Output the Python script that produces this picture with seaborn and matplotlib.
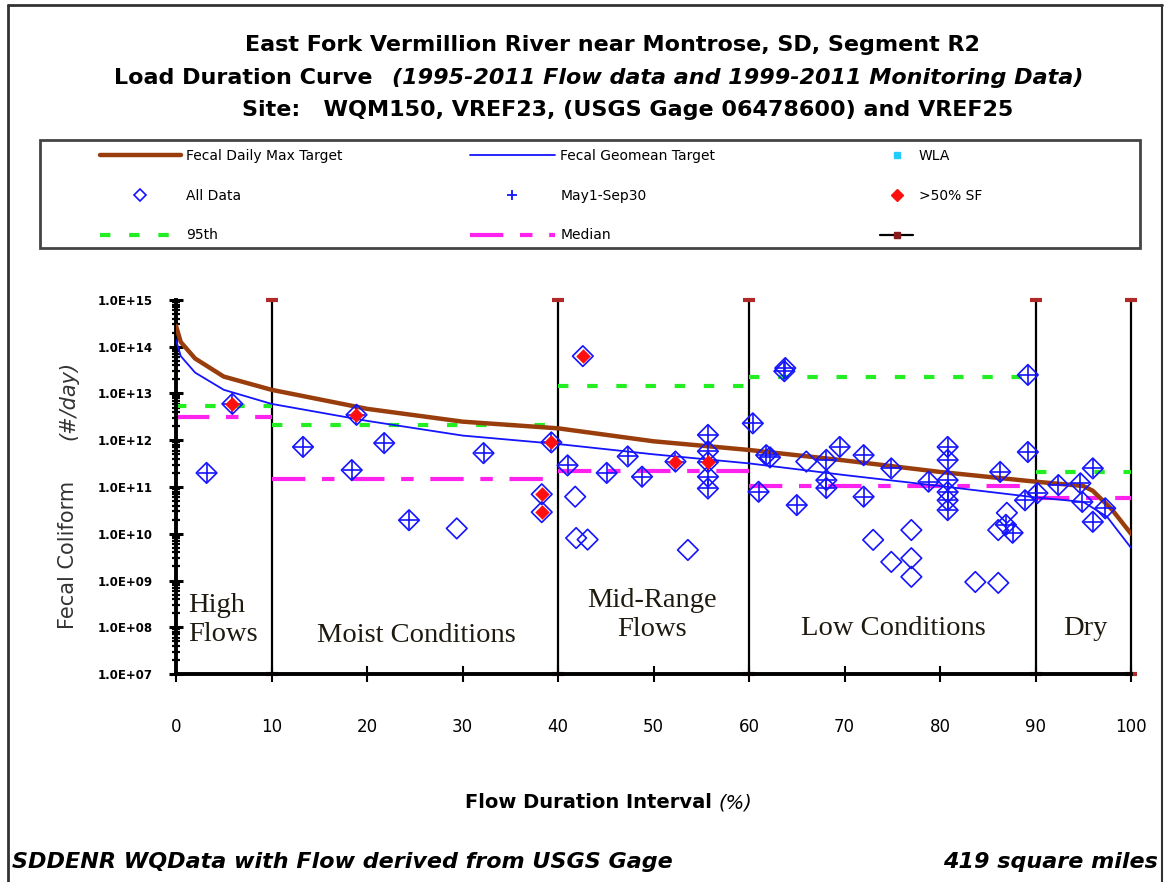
import pandas as pd
import matplotlib.pyplot as plt
import seaborn as sns
from matplotlib.lines import Line2D
from matplotlib.patches import Rectangle
from matplotlib.ticker import LogLocator, FuncFormatter, NullFormatter
import numpy as np

# sample data: flow duration interval (%) and fecal coliform load (#/day)
flow_pct = [3.2, 5.9, 13.3, 18.4, 18.9, 21.8, 24.4, 29.4, 32.2, 38.3, 38.3, 39.3,
            41.0, 41.8, 41.9, 43.1, 42.6, 45.1, 47.3, 48.8, 53.6, 52.3,
            55.7, 55.7, 55.7, 55.7, 55.7, 60.4, 61.0, 61.8, 62.2, 63.8, 63.7,
            65.0, 66.0, 68.1, 68.1, 68.1, 69.5, 72.0, 72.0, 73.0, 74.9, 74.9,
            77.0, 77.0, 77.0, 78.8, 80.8, 80.8, 80.8, 80.8, 80.8, 80.8,
            83.7, 86.1, 86.3, 87.0, 86.1, 86.9, 87.6, 89.2, 89.2, 88.9,
            90.2, 92.4, 94.7, 94.9, 96.0, 96.0, 97.3]
load = [2.0e11, 6.0e12, 7.2e11, 2.3e11, 3.5e12, 8.7e11, 1.95e10, 1.3e10, 5.3e11, 7.0e10, 2.9e10, 9.0e11,
        2.9e11, 6.2e10, 8.1e9, 7.5e9, 6.3e13, 2.0e11, 4.5e11, 1.66e11, 4.5e9, 3.5e11,
        1.3e12, 5.8e11, 3.4e11, 1.66e11, 9.3e10, 2.3e12, 7.9e10, 4.8e11, 4.3e11, 3.5e13, 3.0e13,
        4.1e10, 3.5e11, 3.8e11, 1.4e11, 9.5e10, 7.2e11, 4.8e11, 6.2e10, 7.4e9, 2.5e11, 2.5e9,
        1.2e10, 3.0e9, 1.2e9, 1.3e11, 7.2e11, 3.8e11, 1.4e11, 7.8e10, 5.2e10, 3.2e10,
        9.3e8, 8.9e8, 2.1e11, 2.8e10, 1.2e10, 1.55e10, 1.05e10, 2.5e13, 5.6e11, 5.2e10,
        7.4e10, 1.1e11, 1.2e11, 4.8e10, 2.5e11, 1.8e10, 3.5e10]
may_sep = [1, 1, 1, 1, 1, 1, 1, 0, 1, 0, 0, 1,
           1, 0, 0, 0, 0, 1, 1, 1, 0, 1,
           1, 1, 1, 1, 1, 1, 1, 1, 1, 1, 1,
           1, 0, 1, 1, 1, 1, 1, 1, 0, 1, 0,
           0, 0, 0, 1, 1, 1, 1, 1, 1, 1,
           0, 0, 1, 0, 0, 1, 1, 1, 1, 1,
           1, 1, 1, 1, 1, 1, 1]
high_sf = [0, 1, 0, 0, 1, 0, 0, 0, 0, 1, 1, 1,
           0, 0, 0, 0, 1, 0, 0, 0, 0, 1,
           0, 0, 1, 0, 0, 0, 0, 0, 0, 0, 0,
           0, 0, 0, 0, 0, 0, 0, 0, 0, 0, 0,
           0, 0, 0, 0, 0, 0, 0, 0, 0, 0,
           0, 0, 0, 0, 0, 0, 0, 0, 0, 0,
           0, 0, 0, 0, 0, 0, 0]

# target curves
max_x = [0, 0.5, 2, 5, 10, 20, 30, 40, 50, 60, 70, 80, 90, 95, 96, 98, 100]
max_target = [2.8e14, 1.26e14, 5.6e13, 2.3e13, 1.2e13, 4.7e12, 2.5e12, 1.8e12, 9.5e11,
              6.2e11, 3.7e11, 2.1e11, 1.3e11, 1.05e11, 8.3e10, 3.3e10, 1.0e10]
geo_x = [0, 0.5, 2, 5, 10, 20, 30, 40, 50, 60, 70, 80, 90, 95, 97.5, 100]
geo_target = [1.4e14, 6.3e13, 2.8e13, 1.2e13, 6.0e12, 2.6e12, 1.26e12, 8.3e11, 5.0e11,
              3.2e11, 1.8e11, 1.05e11, 6.0e10, 4.8e10, 2.3e10, 5.0e9]

# flow zones and per-zone statistics
zone_edges = [0, 10, 40, 60, 90, 100]
p95 = [5.4e12, 2.1e12, 1.45e13, 2.3e13, 2.1e11]
median = [3.1e12, 1.5e11, 2.2e11, 1.05e11, 5.8e10]
zone_names = ["High\nFlows", "Moist Conditions", "Mid-Range\nFlows", "Low Conditions", "Dry"]

df = pd.DataFrame({"flow": flow_pct, "load": load, "may": may_sep, "sf": high_sf})

sns.set_style("white")
plt.rcParams["font.family"] = ["DejaVu Sans"]
plt.rcParams["text.color"] = "black"
plt.rcParams["xtick.color"] = "black"
plt.rcParams["ytick.color"] = "black"

W, H = 1170, 882
fig = plt.figure(figsize=(W / 100, H / 100), dpi=100)
ax = fig.add_axes([176 / W, 1 - 674 / H, (1131 - 176) / W, (674 - 300) / H])

blue = "#1414ff"
brown = "#9a3d0c"

# step lines for percentiles
for i in range(len(p95)):
    ax.plot([zone_edges[i], zone_edges[i + 1]], [p95[i], p95[i]], color="#22ee22",
            lw=3, dashes=(2.5, 4.5), zorder=2)
    ax.plot([zone_edges[i], zone_edges[i + 1]], [median[i], median[i]], color="#ff22ee",
            lw=3, dashes=(8, 4, 3, 4), zorder=2)

sns.lineplot(x=max_x, y=max_target, ax=ax, color=brown, lw=3.2, zorder=3)
sns.lineplot(x=geo_x, y=geo_target, ax=ax, color=blue, lw=1.3, zorder=3)

# zone boundaries
for xv in zone_edges[1:]:
    ax.plot([xv, xv], [1e7, 1e15], color="black", lw=1.6, marker="_", ms=8,
            mew=3, mec="#b02a2a", zorder=1, clip_on=False)

sns.scatterplot(data=df, x="flow", y="load", ax=ax, marker="D", s=110,
                facecolor="none", edgecolor=blue, linewidth=1.2, zorder=4)
sns.scatterplot(data=df[df["may"] == 1], x="flow", y="load", ax=ax, marker="+",
                s=150, color=blue, linewidth=1.2, zorder=5)
sns.scatterplot(data=df[df["sf"] == 1], x="flow", y="load", ax=ax, marker="D",
                s=55, color="#ff1010", edgecolor="#ff1010", linewidth=0, zorder=6)

ax.set_yscale("log")
ax.set_xlim(0, 100)
ax.set_ylim(1e7, 1e15)
ax.set_xlabel("")
ax.set_ylabel("")
ax.set_xticks(range(0, 101, 10))
ax.yaxis.set_major_locator(LogLocator(base=10, numticks=20))
ax.yaxis.set_minor_locator(LogLocator(base=10, subs=np.arange(2, 10), numticks=20))
ax.yaxis.set_minor_formatter(NullFormatter())
ax.yaxis.set_major_formatter(FuncFormatter(lambda v, p: "1.0E+%02d" % round(np.log10(v))))
ax.tick_params(axis="x", direction="inout", length=12, width=1.5, pad=26,
               labelsize=12, bottom=True)
ax.tick_params(axis="y", which="major", direction="inout", length=10, width=2.2,
               pad=12, labelsize=8.5, left=True)
ax.tick_params(axis="y", which="minor", direction="inout", length=6, width=1.6, left=True)
for lab in ax.get_yticklabels():
    lab.set_fontweight("bold")
for s in ["top", "right"]:
    ax.spines[s].set_visible(False)
for s in ["left", "bottom"]:
    ax.spines[s].set_linewidth(2.8)
    ax.spines[s].set_color("black")

# zone labels
serif = "Liberation Serif"
zc = "#1e1a10"
ax.text(1.3, 1.45e8, zone_names[0], family=serif, fontsize=20.5, color=zc, ha="left",
        va="center", linespacing=1.2)
ax.text(25.2, 6.5e7, zone_names[1], family=serif, fontsize=20.5, color=zc, ha="center", va="center")
ax.text(49.8, 1.8e8, zone_names[2], family=serif, fontsize=20.5, color=zc, ha="center",
        va="center", linespacing=1.2)
ax.text(75.1, 9.5e7, zone_names[3], family=serif, fontsize=20.5, color=zc, ha="center", va="center")
ax.text(95.2, 9.5e7, zone_names[4], family=serif, fontsize=20.5, color=zc, ha="center", va="center")


def fx(px):
    return px / W


def fy(py):
    return 1 - py / H


# titles
fig.text(fx(612), fy(45), "East Fork Vermillion River near Montrose, SD, Segment R2",
         ha="center", va="center", fontsize=16, fontweight="bold")
fig.text(fx(372), fy(78), "Load Duration Curve", ha="right", va="center",
         fontsize=16, fontweight="bold")
fig.text(fx(392), fy(78), "(1995-2011 Flow data and 1999-2011 Monitoring Data)",
         ha="left", va="center", fontsize=16, fontweight="bold", style="italic")
fig.text(fx(628), fy(110), "Site:   WQM150, VREF23, (USGS Gage 06478600) and VREF25",
         ha="center", va="center", fontsize=16, fontweight="bold")

# axis labels
fig.text(fx(68), fy(555), "Fecal Coliform", rotation=90, ha="center", va="center",
         fontsize=15, color="#333333")
fig.text(fx(68), fy(400), "(#/day)", rotation=90, ha="center", va="center",
         fontsize=15, color="#333333", style="italic")
fig.text(fx(712), fy(803), "Flow Duration Interval", ha="right", va="center",
         fontsize=14, fontweight="bold")
fig.text(fx(718), fy(803), "(%)", ha="left", va="center", fontsize=14, style="italic")

fig.text(fx(12), fy(862), "SDDENR WQData with Flow derived from USGS Gage", ha="left",
         va="center", fontsize=16, fontweight="bold", style="italic")
fig.text(fx(1158), fy(862), "419 square miles", ha="right", va="center", fontsize=16,
         fontweight="bold", style="italic")

# legend
h_max = Line2D([], [], color=brown, lw=3.2)
h_geo = Line2D([], [], color=blue, lw=1.3)
h_wla = Line2D([], [], color="#22ccff", marker="s", ms=4, ls="none")
h_all = Line2D([], [], color=blue, marker="D", ms=6, mfc="none", mew=1.2, ls="none")
h_may = Line2D([], [], color=blue, marker="+", ms=7, mew=1.3, ls="none")
h_sf = Line2D([], [], color="#ff1010", marker="D", ms=6, ls="none")
h_95 = Line2D([], [], color="#22ee22", lw=3, dashes=(2.5, 4.5))
h_med = Line2D([], [], color="#ff22ee", lw=3, dashes=(8, 4, 3, 4))
h_zone = Line2D([], [], color="black", lw=1.6, marker="s", ms=4, mfc="#8b1a1a", mec="#8b1a1a")

cols = [([h_max, h_all, h_95], ["Fecal Daily Max Target", "All Data", "95th"], 100, 5.8),
        ([h_geo, h_may, h_med], ["Fecal Geomean Target", "May1-Sep30", "Median"], 470, 6.1),
        ([h_wla, h_sf, h_zone], ["WLA", ">50% SF", ""], 880, 2.4)]
for hs, ls, x0, hl in cols:
    fig.legend(hs, ls, loc="upper left", bbox_to_anchor=(fx(x0), fy(149)),
               frameon=False, fontsize=10, handlelength=hl, handletextpad=0.4,
               labelspacing=1.85, borderpad=0, borderaxespad=0)

fig.patches.append(Rectangle((fx(40), fy(248)), fx(1100), (248 - 140) / H,
                             transform=fig.transFigure, fill=False, lw=2,
                             edgecolor="#444444"))
# outer frame
fig.add_artist(Line2D([fx(8), fx(8)], [0, fy(5)], color="#333333", lw=2))
fig.add_artist(Line2D([fx(8), fx(1162)], [fy(5), fy(5)], color="#333333", lw=2))
fig.add_artist(Line2D([fx(1162), fx(1162)], [0, fy(5)], color="#333333", lw=1.5))

plt.savefig("out.png", dpi=100)
